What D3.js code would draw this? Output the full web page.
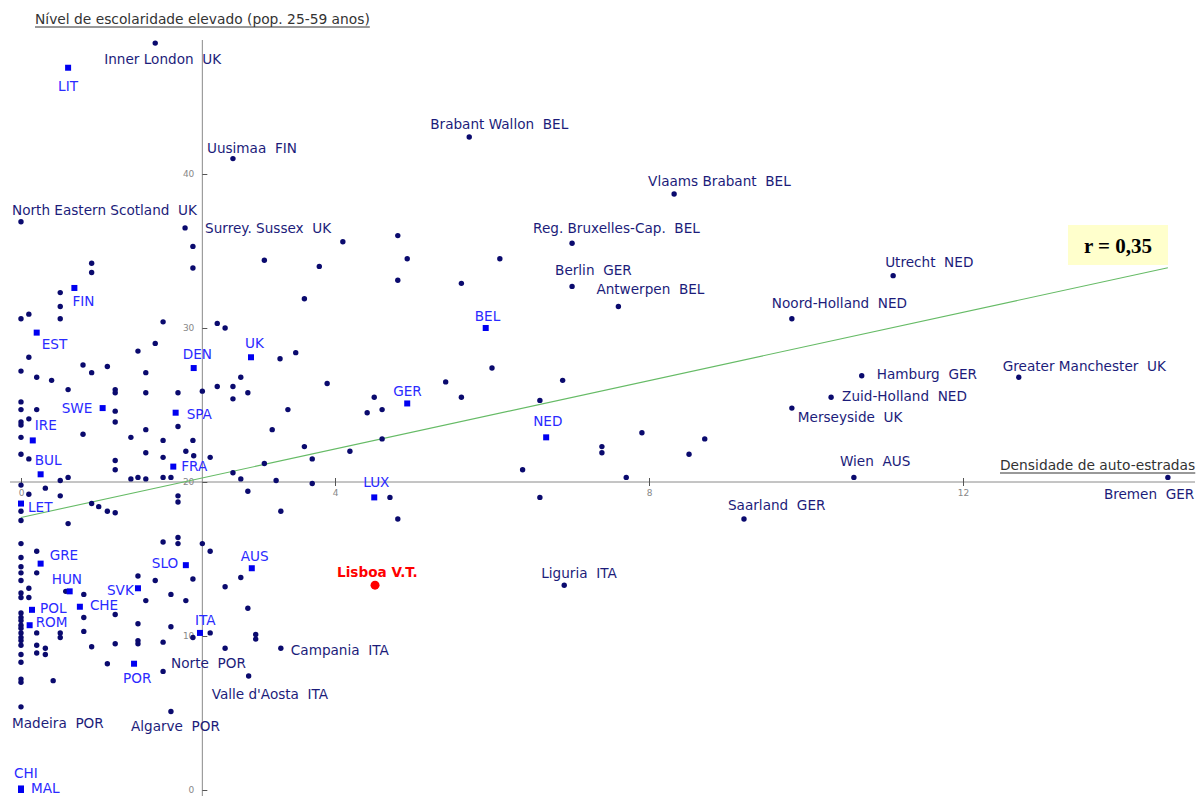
<!DOCTYPE html>
<html><head><meta charset="utf-8">
<script src="https://cdn.jsdelivr.net/npm/d3@7"></script>
<style>body{margin:0;background:#fff} svg{display:block} text{white-space:pre}</style>
</head><body><svg id="c" width="1199" height="796"></svg>
<script>
// ---------- DATA ----------
const xTicks = [0, 4, 8, 12];
const yTicks = [0, 10, 20, 30, 40];
const axisCross = { x: 2.31, y: 20 };
const regression = { intercept: 17.7, slope: 1.11, xMax: 14.61 };
const rLabel = "r = 0,35";
const yTitle = "Nível de escolaridade elevado (pop. 25-59 anos)";
const xTitle = "Densidade de auto-estradas";

const namedRegions = ["Inner London  UK","Uusimaa  FIN","Brabant Wallon  BEL","Vlaams Brabant  BEL",
  "North Eastern Scotland  UK","Surrey. Sussex  UK","Reg. Bruxelles-Cap.  BEL","Berlin  GER",
  "Antwerpen  BEL","Utrecht  NED","Noord-Holland  NED","Hamburg  GER","Greater Manchester  UK",
  "Zuid-Holland  NED","Merseyside  UK","Wien  AUS","Bremen  GER","Saarland  GER","Liguria  ITA",
  "Campania  ITA","Norte  POR","Valle d'Aosta  ITA","Algarve  POR","Madeira  POR"];
const namedX = [1.71,2.70,5.71,8.32,0.00,2.09,7.02,7.02,7.61,11.11,9.82,10.71,12.71,10.32,9.82,10.61,14.61,9.21,6.92,3.31,1.81,2.90,1.91,0.00];
const namedY = [48.5,41.0,42.4,38.7,36.9,36.5,35.5,32.7,31.4,33.4,30.6,26.9,26.8,25.5,24.8,20.3,20.3,17.6,13.3,9.2,7.7,7.4,5.1,5.4];

const countries = ["LIT","FIN","EST","DEN","UK","SWE","SPA","IRE","BUL","FRA","BEL","GER","NED","LUX","LET","GRE","SLO","AUS","HUN","SVK","CHE","POL","ROM","ITA","POR","CHI","MAL"];
const countryX = [0.60,0.68,0.20,2.20,2.93,1.04,1.97,0.15,0.25,1.94,5.92,4.92,6.69,4.50,0.00,0.25,2.10,2.94,0.62,1.49,0.75,0.14,0.11,2.28,1.44,0.00,0.00];
const countryY = [46.9,32.6,29.7,27.4,28.1,24.8,24.5,22.7,20.5,21.0,30.0,25.1,22.9,19.0,18.6,14.7,14.6,14.4,12.9,13.1,11.9,11.7,10.7,10.2,8.2,0.1,0.0];

const highlightName = "Lisboa V.T.";
const highlightX = 4.51;
const highlightY = 13.3;

const otherRegions = [
 [0,30.6],[0,27.2],[0,25.2],[0,24.7],[0,23.9],[0,23.7],[0,22.9],[0,21.8],[0,19.8],[0,18.1],[0,17.5],[0,16.0],[0,15.1],[0,14.5],[0,14.1],[0,13.6],[0,12.8],[0,12.5],[0,11.5],[0,11.2],[0,11.0],[0,10.7],[0,10.5],[0,10.2],[0,9.9],[0,9.7],[0,9.4],[0,8.8],[0,8.3],[0,7.2],[0,7.0],
 [0.10,30.9],[0.10,28.1],[0.10,24.1],[0.10,21.5],[0.10,19.2],[0.10,13.1],[0.10,12.5],
 [0.20,26.8],[0.20,24.7],[0.20,15.5],[0.20,14.1],[0.20,10.2],[0.20,9.4],[0.20,8.9],
 [0.31,19.6],[0.31,9.2],[0.31,8.8],[0.39,26.6],[0.41,7.1],
 [0.50,32.3],[0.50,31.4],[0.50,30.6],[0.50,20.1],[0.50,19.1],[0.50,10.2],[0.50,9.9],
 [0.57,12.9],[0.60,26.0],[0.60,20.3],[0.60,17.3],[0.79,27.6],[0.79,23.1],
 [0.80,12.7],[0.80,11.2],[0.80,10.3],
 [0.90,34.2],[0.90,33.6],[0.90,27.1],[0.90,18.6],[0.90,9.3],[0.99,18.4],
 [1.10,27.5],[1.10,18.1],[1.10,8.2],
 [1.20,26.0],[1.20,25.8],[1.20,24.6],[1.20,23.9],[1.20,21.4],[1.20,20.8],[1.20,18.0],[1.20,11.4],[1.20,9.5],
 [1.40,22.9],[1.40,20.2],
 [1.49,28.5],[1.49,20.3],[1.49,13.9],[1.49,10.8],[1.49,9.7],[1.49,9.5],
 [1.59,27.1],[1.59,25.8],[1.59,23.4],[1.59,21.9],[1.59,20.2],[1.59,12.3],
 [1.71,29.0],[1.71,13.6],
 [1.81,30.4],[1.81,22.7],[1.81,21.6],[1.81,20.3],[1.81,16.1],[1.81,9.6],
 [1.91,20.3],[1.91,12.7],[1.91,10.6],
 [2.00,25.8],[2.00,23.6],[2.00,19.1],[2.00,18.7],[2.00,16.4],[2.00,16.0],
 [2.10,22.0],[2.10,12.3],
 [2.19,35.3],[2.19,33.9],[2.19,22.7],[2.19,13.7],[2.19,9.9],[2.20,21.7],
 [2.31,25.9],[2.31,16.0],[2.41,21.6],[2.41,15.5],[2.41,10.2],
 [2.50,30.3],[2.50,26.2],[2.60,30.0],[2.60,13.2],[2.60,9.2],
 [2.70,26.2],[2.70,25.4],[2.70,20.6],[2.80,26.8],[2.80,20.2],[2.80,13.8],
 [2.89,25.8],[2.89,19.4],[2.89,11.8],[2.99,10.1],[2.99,9.8],
 [3.10,34.4],[3.10,21.2],[3.20,23.4],[3.25,20.1],[3.30,28.0],[3.31,18.1],[3.40,24.7],[3.50,28.4],
 [3.61,31.9],[3.61,22.3],[3.71,21.5],[3.71,19.9],[3.80,34.0],[3.90,26.4],
 [4.10,35.6],[4.19,22.0],[4.41,24.5],[4.50,25.5],[4.60,24.7],[4.60,22.8],[4.70,19.0],
 [4.80,36.0],[4.80,33.1],[4.80,17.6],[4.92,34.5],
 [5.41,26.5],[5.61,32.9],[5.61,25.5],[6.00,27.4],[6.10,34.5],[6.39,20.8],
 [6.61,25.3],[6.61,19.0],[6.90,26.6],[7.40,22.3],[7.40,21.9],[7.71,20.3],[7.91,23.2],
 [8.51,21.8],[8.71,22.8]
];

// ---------- LAYOUT (label offsets in px: left edge, baseline) ----------
const labelOffset = {
 "Inner London  UK":[-51,21],"Uusimaa  FIN":[-26,-6],"Brabant Wallon  BEL":[-39,-8],"Vlaams Brabant  BEL":[-26,-8],
 "North Eastern Scotland  UK":[-9,-7],"Surrey. Sussex  UK":[20,5],"Reg. Bruxelles-Cap.  BEL":[-39,-10],
 "Berlin  GER":[-17,-11],"Antwerpen  BEL":[-22,-12],"Utrecht  NED":[-8,-9],"Noord-Holland  NED":[-20,-11],
 "Hamburg  GER":[15,3],"Greater Manchester  UK":[-16,-6],"Zuid-Holland  NED":[11,4],"Merseyside  UK":[6,14],
 "Wien  AUS":[-14,-11],"Bremen  GER":[-64,22],"Saarland  GER":[-16,-9],"Liguria  ITA":[-23,-7],
 "Campania  ITA":[10,7],"Norte  POR":[8,-3],"Valle d'Aosta  ITA":[-37,23],"Algarve  POR":[-40,20],"Madeira  POR":[-9,21],
 "Lisboa V.T.":[-38,-8],
 "LIT":[-10,23],"FIN":[-2,18],"EST":[5,16],"DEN":[-11,-9],"UK":[-6,-9],"SWE":[-41,5],"SPA":[11,6],"IRE":[2,-10],
 "BUL":[-6,-9],"FRA":[8,4],"BEL":[-11,-7],"GER":[-14,-7],"NED":[-13,-11],"LUX":[-11,-10],"LET":[7,8],
 "GRE":[9,-4],"SLO":[-34,3],"AUS":[-11,-7],"HUN":[-18,-7],"SVK":[-31,7],"CHE":[10,3],"POL":[8,3],"ROM":[6,2],
 "ITA":[-5,-8],"POR":[-11,19],"CHI":[-7,-10],"MAL":[10,3]
};

// ---------- CHART ----------
const svg = d3.select("#c");
const W = 1199, H = 796;
const x = d3.scaleLinear().domain([0, 15]).range([21, 21 + 15 * 78.5]);
const y = d3.scaleLinear().domain([0, 50]).range([790, 790 - 50 * 15.4]);
const font = "'DejaVu Sans', Verdana, sans-serif";
const axisCol = "#8a8a8a";
const labelSize = 13.6;

const x0 = x(axisCross.x), y0 = y(axisCross.y);

// axes lines
svg.append("line").attr("x1", 10).attr("x2", 1195).attr("y1", y0).attr("y2", y0)
  .attr("stroke", axisCol).attr("stroke-width", 1);
svg.append("line").attr("x1", x0).attr("x2", x0).attr("y1", 40).attr("y2", H)
  .attr("stroke", axisCol).attr("stroke-width", 1);

// x axis via d3
const gx = svg.append("g").attr("transform", `translate(0,${y0})`)
  .call(d3.axisBottom(x).tickValues(xTicks).tickSizeInner(4).tickSizeOuter(0).tickPadding(4));
gx.select(".domain").remove();
gx.selectAll(".tick line").attr("y1", -4).attr("stroke", "#555");
gx.selectAll(".tick text").attr("fill", "#888").attr("font-size", 9).attr("font-family", font);

const gy = svg.append("g").attr("transform", `translate(${x0},0)`)
  .call(d3.axisLeft(y).tickValues(yTicks).tickSizeInner(5).tickSizeOuter(0).tickPadding(3));
gy.select(".domain").remove();
gy.selectAll(".tick line").attr("x2", 5).attr("stroke", "#555");
gy.selectAll(".tick text").attr("fill", "#888").attr("font-size", 9).attr("font-family", font);

// axis titles
function underlined(txt, tx, ty) {
  const t = svg.append("text").attr("x", tx).attr("y", ty).text(txt)
    .attr("font-family", font).attr("font-size", 13.8).attr("fill", "#333");
  const w = t.node().getComputedTextLength();
  svg.append("line").attr("x1", tx).attr("x2", tx + w).attr("y1", ty + 3).attr("y2", ty + 3)
    .attr("stroke", "#333").attr("stroke-width", 1);
}
underlined(yTitle, 35, 24);
underlined(xTitle, 1000, 470);

// regression line
svg.append("line")
  .attr("x1", x(0)).attr("y1", y(regression.intercept))
  .attr("x2", x(regression.xMax)).attr("y2", y(regression.intercept + regression.slope * regression.xMax))
  .attr("stroke", "#66bb66").attr("stroke-width", 1.1);

// r box
svg.append("rect").attr("x", 1068).attr("y", 225).attr("width", 100).attr("height", 40).attr("fill", "#ffffcc");
svg.append("text").attr("x", 1118).attr("y", 253).attr("text-anchor", "middle").text(rLabel)
  .attr("font-family", "'Liberation Serif', 'Times New Roman', serif").attr("font-weight", "bold")
  .attr("font-size", 21).attr("fill", "#000");

// other regions
svg.append("g").selectAll("circle").data(otherRegions).join("circle")
  .attr("cx", d => x(d[0])).attr("cy", d => y(d[1])).attr("r", 2.7).attr("fill", "#0a0a6e");

// named regions
const named = namedRegions.map((n, i) => ({ n, x: namedX[i], y: namedY[i] }));
svg.append("g").selectAll("circle").data(named).join("circle")
  .attr("cx", d => x(d.x)).attr("cy", d => y(d.y)).attr("r", 2.7).attr("fill", "#0a0a6e");
svg.append("g").selectAll("text").data(named).join("text")
  .attr("x", d => x(d.x) + labelOffset[d.n][0]).attr("y", d => y(d.y) + labelOffset[d.n][1])
  .text(d => d.n).attr("font-family", font).attr("font-size", labelSize).attr("fill", "#1c1c7a");

// countries
const ctry = countries.map((n, i) => ({ n, x: countryX[i], y: countryY[i] }));
svg.append("g").selectAll("rect").data(ctry).join("rect")
  .attr("x", d => x(d.x) - 3).attr("y", d => y(d.y) - 3).attr("width", 6).attr("height", 6).attr("fill", "#0000f0");
svg.append("g").selectAll("text").data(ctry).join("text")
  .attr("x", d => x(d.x) + labelOffset[d.n][0]).attr("y", d => y(d.y) + labelOffset[d.n][1])
  .text(d => d.n).attr("font-family", font).attr("font-size", labelSize).attr("fill", "#2a2aff");

// highlight
svg.append("circle").attr("cx", x(highlightX)).attr("cy", y(highlightY)).attr("r", 4.5).attr("fill", "#ff0000");
svg.append("text").attr("x", x(highlightX) + labelOffset[highlightName][0]).attr("y", y(highlightY) + labelOffset[highlightName][1])
  .text(highlightName).attr("font-family", font).attr("font-size", labelSize).attr("font-weight", "bold").attr("fill", "#ff0000");
</script></body></html>
